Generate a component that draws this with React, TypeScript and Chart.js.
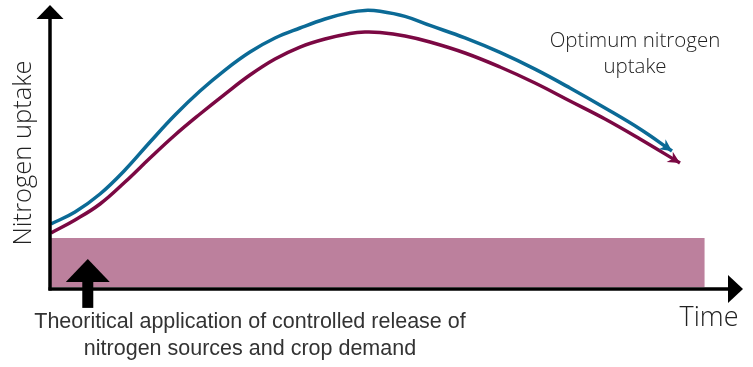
import React, { useEffect, useRef } from "react";
import { Chart, registerables } from "chart.js";

Chart.register(...registerables);

// Time (0-100) and nitrogen uptake (0-100)
const timeX = [0, 3.46, 7.06, 10.66, 14.27, 17.87, 21.47, 25.07, 28.67, 32.28, 35.88, 39.48, 43.08, 45.24, 47.41, 51.01, 54.61, 59.65, 64.7, 69.74, 74.78, 79.83, 84.87];
const blueX = [...timeX, 89.48];
const blueY = [22.89, 27.11, 33.45, 41.9, 51.76, 61.27, 69.72, 77.11, 83.45, 88.38, 91.9, 95.07, 97.4, 98.1, 97.8, 96.0, 92.8, 88.4, 83.3, 77.4, 70.77, 63.73, 56.34, 48.59];
const redX = [...timeX, 90.63];
const redY = [19.72, 24.3, 29.93, 37.68, 46.13, 54.23, 61.62, 68.66, 75.35, 80.99, 85.21, 88.03, 89.96, 90.49, 90.32, 89.08, 86.97, 83.1, 78.17, 72.54, 66.2, 59.86, 52.82, 44.37];
const bandX = [0, 94.2];
const bandTop = [18.0, 18.0];
const bandBottom = 0.7;
const applicationX = 5.3;
const applicationTip = 10.6;

const yTitle = "Nitrogen uptake";
const xTitle = "Time";
const curveLabel = ["Optimum nitrogen", "uptake"];
const bottomLabel = [
  "Theoritical application of controlled release of",
  "nitrogen sources and crop demand",
];

const BLUE = "#0b6a96";
const RED = "#7b0843";
const PINK = "#bc809d";

const toPts = (xs: number[], ys: number[]) => xs.map((x, i) => ({ x, y: ys[i] }));

const decorPlugin = {
  id: "decor",
  afterDraw(chart: any) {
    const { ctx, scales, chartArea } = chart;
    const xs = scales.x;
    const ys = scales.y;
    const left = chartArea.left - 1;
    const bottom = chartArea.bottom;
    ctx.save();
    ctx.fillStyle = "#000";
    ctx.strokeStyle = "#000";
    ctx.lineWidth = 3.5;
    // y axis
    ctx.beginPath();
    ctx.moveTo(left, bottom + 1.5);
    ctx.lineTo(left, chartArea.top + 14);
    ctx.stroke();
    ctx.beginPath();
    ctx.moveTo(left - 13.5, chartArea.top + 14);
    ctx.lineTo(left + 13.5, chartArea.top + 14);
    ctx.lineTo(left, chartArea.top);
    ctx.closePath();
    ctx.fill();
    // x axis
    ctx.beginPath();
    ctx.moveTo(left - 1.5, bottom);
    ctx.lineTo(chartArea.right - 16, bottom);
    ctx.stroke();
    ctx.beginPath();
    ctx.moveTo(chartArea.right - 17, bottom - 14);
    ctx.lineTo(chartArea.right - 17, bottom + 14);
    ctx.lineTo(chartArea.right - 2, bottom);
    ctx.closePath();
    ctx.fill();

    // arrowheads on curves
    const head = (xsArr: number[], ysArr: number[], color: string) => {
      const n = xsArr.length;
      const x1 = xs.getPixelForValue(xsArr[n - 2]);
      const y1 = ys.getPixelForValue(ysArr[n - 2]);
      const x2 = xs.getPixelForValue(xsArr[n - 1]);
      const y2 = ys.getPixelForValue(ysArr[n - 1]);
      const a = Math.atan2(y2 - y1, x2 - x1);
      const L = 12;
      const W = 6;
      ctx.fillStyle = color;
      ctx.beginPath();
      ctx.moveTo(x2, y2);
      ctx.lineTo(x2 - L * Math.cos(a) + W * Math.sin(a), y2 - L * Math.sin(a) - W * Math.cos(a));
      ctx.lineTo(x2 - L * 0.7 * Math.cos(a), y2 - L * 0.7 * Math.sin(a));
      ctx.lineTo(x2 - L * Math.cos(a) - W * Math.sin(a), y2 - L * Math.sin(a) + W * Math.cos(a));
      ctx.closePath();
      ctx.fill();
    };
    head(blueX, blueY, BLUE);
    head(redX, redY, RED);

    // application arrow
    const ax = xs.getPixelForValue(applicationX);
    const ay = ys.getPixelForValue(applicationTip);
    ctx.fillStyle = "#000";
    ctx.beginPath();
    ctx.moveTo(ax, ay);
    ctx.lineTo(ax + 22, ay + 23);
    ctx.lineTo(ax - 22, ay + 23);
    ctx.closePath();
    ctx.fill();
    ctx.fillRect(ax - 5.5, ay + 22, 11, 27);

    // texts
    ctx.fillStyle = "#222";
    ctx.textAlign = "center";
    ctx.textBaseline = "middle";
    ctx.save();
    ctx.translate(24, 153);
    ctx.rotate(-Math.PI / 2);
    ctx.font = "300 25.5px 'Open Sans'";
    ctx.fillText(yTitle, 0, 0);
    ctx.restore();

    ctx.font = "300 27px 'Open Sans'";
    ctx.fillText(xTitle, 709, 318);

    ctx.font = "300 20.5px 'Open Sans'";
    ctx.fillText(curveLabel[0], 635, 41);
    ctx.fillText(curveLabel[1], 635, 67);

    ctx.fillStyle = "#333";
    ctx.font = "21.5px 'Liberation Sans'";
    ctx.fillText(bottomLabel[0], 250, 322);
    ctx.fillText(bottomLabel[1], 250, 349);
    ctx.restore();
  },
};

export default function App() {
  const ref = useRef<HTMLCanvasElement>(null);
  useEffect(() => {
    if (!ref.current) return;
    const chart = new Chart(ref.current, {
      type: "line",
      data: {
        datasets: [
          {
            data: toPts(blueX, blueY),
            borderColor: BLUE,
            borderWidth: 3.5,
            pointRadius: 0,
            tension: 0.4,
            fill: false,
          },
          {
            data: toPts(redX, redY),
            borderColor: RED,
            borderWidth: 3.5,
            pointRadius: 0,
            tension: 0.4,
            fill: false,
          },
          {
            data: toPts(bandX, bandTop),
            borderWidth: 0,
            borderColor: PINK,
            backgroundColor: PINK,
            pointRadius: 0,
            fill: { value: bandBottom },
          },
        ],
      },
      options: {
        responsive: false,
        animation: false,
        layout: { padding: { left: 51, right: 8, top: 5, bottom: 78 } },
        plugins: { legend: { display: false }, tooltip: { enabled: false } },
        scales: {
          x: { type: "linear", min: 0, max: 100, display: false },
          y: { type: "linear", min: 0, max: 100, display: false },
        },
      },
      plugins: [decorPlugin],
    } as any);
    return () => chart.destroy();
  }, []);
  return (
    <div style={{ position: "absolute", left: 0, top: 0, width: 753, height: 367 }}>
      <canvas ref={ref} width={753} height={367} style={{ display: "block" }} />
    </div>
  );
}
